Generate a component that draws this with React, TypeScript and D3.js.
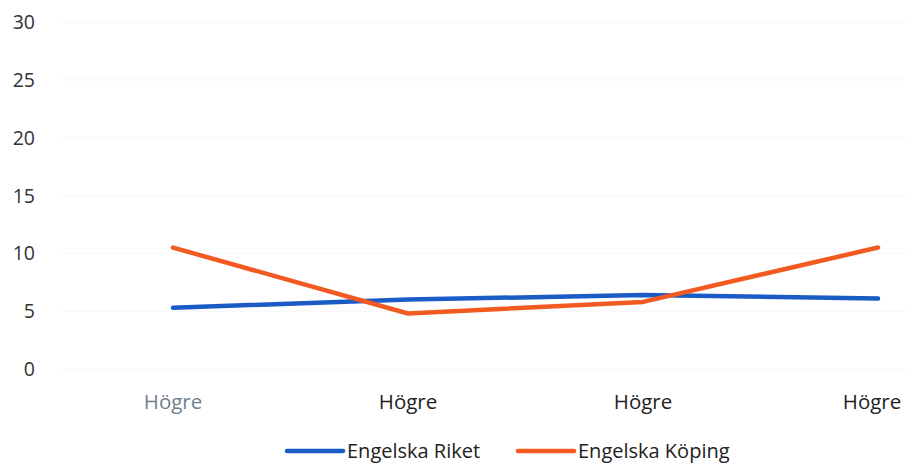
import React from "react";
import * as d3 from "d3";

const categories = ["Högre", "Högre", "Högre", "Högre"];
const riket = [5.3, 6.0, 6.4, 6.1];
const koping = [10.5, 4.8, 5.8, 10.5];
const yTicks = [0, 5, 10, 15, 20, 25, 30];
const seriesNames = ["Engelska Riket", "Engelska Köping"];
const colors = ["#1b5bc6", "#f25a22"];

const W = 906;
const H = 463;
const FONT = "'Open Sans', sans-serif";

export default function App() {
  const x = d3.scalePoint<number>().domain(categories.map((_, i) => i)).range([173, 878]);
  const y = d3.scaleLinear().domain([0, 30]).range([369, 22]);
  const line = d3
    .line<number>()
    .x((_, i) => x(i) as number)
    .y((d) => y(d));
  const series = [riket, koping];
  const legendX = [287, 518];
  return (
    <div style={{ position: "absolute", left: 0, top: 0, width: W, height: H, overflow: "hidden" }}>
      <svg width={W} height={H} style={{ display: "block", background: "#fff" }}>
        {yTicks.map((t) => (
          <g key={t}>
            <line x1={60} x2={W} y1={y(t)} y2={y(t)} stroke="#f6f6f6" strokeWidth={1} />
            <text x={35} y={y(t)} dy="0.36em" textAnchor="end" fontFamily={FONT} fontSize={19.5} fill="#333">
              {t}
            </text>
          </g>
        ))}
        {categories.map((c, i) => (
          <text
            key={i}
            x={Math.min(x(i) as number, 872)}
            y={402}
            dy="0.36em"
            textAnchor="middle"
            fontFamily={FONT}
            fontSize={20.5}
            fill={i === 0 ? "#6f7f8f" : "#222"}
          >
            {c}
          </text>
        ))}
        {series.map((s, k) => (
          <path key={k} d={line(s) || ""} fill="none" stroke={colors[k]} strokeWidth={4.5} strokeLinecap="round" strokeLinejoin="round" />
        ))}
        {seriesNames.map((n, k) => (
          <g key={n}>
            <line x1={legendX[k]} x2={legendX[k] + 56} y1={451} y2={451} stroke={colors[k]} strokeWidth={4.5} strokeLinecap="round" />
            <text x={legendX[k] + 60} y={451} dy="0.34em" fontFamily={FONT} fontSize={20} fill="#222">
              {n}
            </text>
          </g>
        ))}
      </svg>
    </div>
  );
}
